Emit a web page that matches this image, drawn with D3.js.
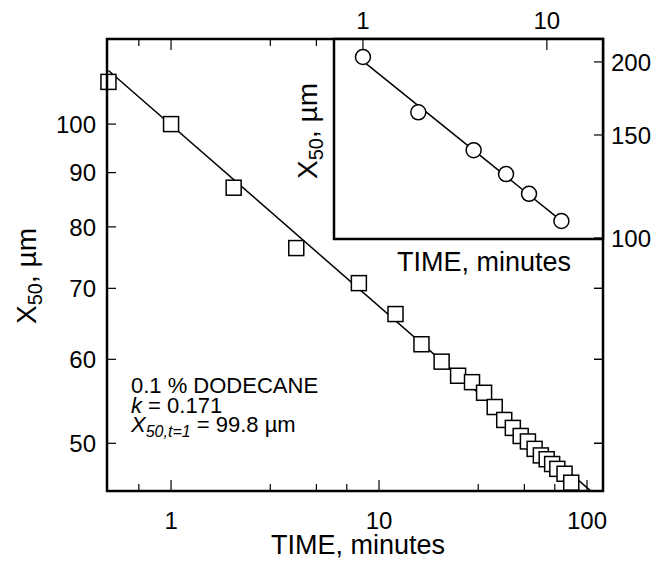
<!DOCTYPE html>
<html>
<head>
<meta charset="utf-8">
<script src="https://cdn.jsdelivr.net/npm/d3@7"></script>
<style>
    body { margin: 0; background: #fff; }
    svg { display: block; font-family: "Liberation Sans", Arial, sans-serif; }
</style>
</head>
<body>
<svg id="chart" width="651" height="571"></svg>
<script>
// main series (0.1 % dodecane), squares
const mainTimes = [0.5, 1, 2, 4, 8, 12, 16, 20, 24, 28, 32, 36, 40, 44, 48, 52, 56, 60, 64, 68, 72, 78, 84];
const mainX50 = [109.6, 100.0, 87.1, 76.4, 70.8, 66.2, 62.0, 59.7, 57.9, 57.1, 55.8, 54.1, 52.6, 51.7, 50.8, 50.2, 49.4, 48.7, 48.3, 47.8, 47.3, 46.8, 45.9];
const mainFitK = 0.171;
const mainFitX1 = 99.8;
const mainFitTimes = [0.5, 110];

// inset series, circles
const insetTimes = [1, 2, 4, 6, 8, 12];
const insetX50 = [203.9, 164.0, 141.3, 128.6, 119.0, 106.9];
const insetFitK = 0.253;
const insetFitX1 = 200.6;
const insetFitTimes = [1, 12];

// ticks
const mainXMajor = [1, 10, 100];
const mainXMinor = [0.7, 3, 5, 7, 30, 50, 70];
const mainYTicks = [50, 60, 70, 80, 90, 100];
const insetXTicks = [1, 10];
const insetYTicks = [100, 150, 200];

const svg = d3.select("#chart");

const plot = { left: 107, right: 603, top: 39, bottom: 491 };
const inset = { left: 334, right: 603, top: 39, bottom: 239 };

const x = d3.scaleLog().domain([0.492, 119.4]).range([plot.left, plot.right]);
const y = d3.scaleLog().domain([45.08, 120.3]).range([plot.bottom, plot.top]);

const ix = d3.scaleLog().domain([0.696, 20.2]).range([inset.left, inset.right]);
const iy = d3.scaleLog().domain([99.6, 218.9]).range([inset.bottom, inset.top]);

const mainData = mainTimes.map((t, i) => ({ t: t, v: mainX50[i] }));
const insetData = insetTimes.map((t, i) => ({ t: t, v: insetX50[i] }));

svg.append("defs").append("clipPath")
    .attr("id", "clip-main")
    .append("rect")
    .attr("x", plot.left)
    .attr("y", plot.top)
    .attr("width", plot.right - plot.left)
    .attr("height", plot.bottom - plot.top);

// ================ main plot ================

// fit line
svg.append("path")
    .datum(mainFitTimes)
    .attr("clip-path", "url(#clip-main)")
    .attr("fill", "none")
    .attr("stroke", "#000")
    .attr("stroke-width", 1.5)
    .attr("d", d3.line()
        .x(t => x(t))
        .y(t => y(mainFitX1 * Math.pow(t, -mainFitK))));

// squares, drawn in order so later ones overlap
const sq = 15;
svg.append("g")
    .selectAll("rect")
    .data(mainData)
    .enter().append("rect")
    .attr("x", d => x(d.t) - sq / 2)
    .attr("y", d => y(d.v) - sq / 2)
    .attr("width", sq)
    .attr("height", sq)
    .attr("fill", "#fff")
    .attr("stroke", "#000")
    .attr("stroke-width", 1.5);

// ticks
const tickG = svg.append("g").attr("stroke", "#000").attr("stroke-width", 1.2);

function xTicks(vals, len) {
    tickG.selectAll(null).data(vals).enter().append("line")
        .attr("x1", d => x(d)).attr("x2", d => x(d))
        .attr("y1", plot.bottom).attr("y2", plot.bottom - len);
    tickG.selectAll(null).data(vals).enter().append("line")
        .attr("x1", d => x(d)).attr("x2", d => x(d))
        .attr("y1", plot.top).attr("y2", plot.top + len);
}
xTicks(mainXMajor, 11);
xTicks(mainXMinor, 7);

tickG.selectAll(null).data(mainYTicks).enter().append("line")
    .attr("x1", plot.left).attr("x2", plot.left + 9)
    .attr("y1", d => y(d)).attr("y2", d => y(d));
tickG.selectAll(null).data(mainYTicks).enter().append("line")
    .attr("x1", plot.right).attr("x2", plot.right - 9)
    .attr("y1", d => y(d)).attr("y2", d => y(d));

// frame
svg.append("rect")
    .attr("x", plot.left)
    .attr("y", plot.top)
    .attr("width", plot.right - plot.left)
    .attr("height", plot.bottom - plot.top)
    .attr("fill", "none")
    .attr("stroke", "#000")
    .attr("stroke-width", 2.5);

// tick labels
svg.append("g")
    .selectAll("text")
    .data(mainXMajor)
    .enter().append("text")
    .attr("x", d => x(d))
    .attr("y", 529)
    .attr("text-anchor", "middle")
    .attr("font-size", 24)
    .text(d => d);

svg.append("g")
    .selectAll("text")
    .data(mainYTicks)
    .enter().append("text")
    .attr("x", 96)
    .attr("y", d => y(d))
    .attr("dy", "0.36em")
    .attr("text-anchor", "end")
    .attr("font-size", 24)
    .text(d => d);

// axis titles
svg.append("text")
    .attr("x", 358)
    .attr("y", 554)
    .attr("text-anchor", "middle")
    .attr("font-size", 27)
    .text("TIME, minutes");

function yTitle(cx, cy) {
    const t = svg.append("text")
        .attr("transform", `translate(${cx},${cy}) rotate(-90)`)
        .attr("text-anchor", "middle")
        .attr("dy", "0.36em")
        .attr("font-size", 28);
    t.append("tspan").text("X");
    t.append("tspan").attr("font-size", 20).attr("dy", 6).text("50");
    t.append("tspan").attr("dy", -6).text(", µm");
}
yTitle(26, 276);

// annotation
const note = svg.append("g").attr("font-size", 22);
note.append("text").attr("x", 131).attr("y", 393).text("0.1 % DODECANE");
const kLine = note.append("text").attr("x", 131).attr("y", 413);
kLine.append("tspan").attr("font-style", "italic").text("k");
kLine.append("tspan").text(" = 0.171");
const xLine = note.append("text").attr("x", 131).attr("y", 432);
xLine.append("tspan").attr("font-style", "italic").text("X");
xLine.append("tspan").attr("font-style", "italic").attr("font-size", 16).attr("dy", 5).text("50,t=1");
xLine.append("tspan").attr("dy", -5).text(" = 99.8 µm");

// ================ inset ================

svg.append("rect")
    .attr("x", inset.left)
    .attr("y", inset.top)
    .attr("width", inset.right - inset.left)
    .attr("height", inset.bottom - inset.top)
    .attr("fill", "#fff")
    .attr("stroke", "none");

const insetTicks = svg.append("g").attr("stroke", "#000").attr("stroke-width", 1.2);
insetTicks.selectAll(null).data(insetXTicks).enter().append("line")
    .attr("x1", d => ix(d)).attr("x2", d => ix(d))
    .attr("y1", inset.top).attr("y2", inset.top + 11);
insetTicks.selectAll(null).data(insetYTicks).enter().append("line")
    .attr("x1", inset.right).attr("x2", inset.right - 9)
    .attr("y1", d => iy(d)).attr("y2", d => iy(d));
// main right-axis ticks below the inset
insetTicks.selectAll(null).data(mainYTicks.filter(d => y(d) > inset.bottom)).enter().append("line")
    .attr("x1", plot.right).attr("x2", plot.right - 9)
    .attr("y1", d => y(d)).attr("y2", d => y(d));

svg.append("path")
    .datum(insetFitTimes)
    .attr("fill", "none")
    .attr("stroke", "#000")
    .attr("stroke-width", 1.5)
    .attr("d", d3.line()
        .x(t => ix(t))
        .y(t => iy(insetFitX1 * Math.pow(t, -insetFitK))));

svg.append("g")
    .selectAll("circle")
    .data(insetData)
    .enter().append("circle")
    .attr("cx", d => ix(d.t))
    .attr("cy", d => iy(d.v))
    .attr("r", 7.5)
    .attr("fill", "#fff")
    .attr("stroke", "#000")
    .attr("stroke-width", 1.5);

svg.append("rect")
    .attr("x", inset.left)
    .attr("y", inset.top)
    .attr("width", inset.right - inset.left)
    .attr("height", inset.bottom - inset.top)
    .attr("fill", "none")
    .attr("stroke", "#000")
    .attr("stroke-width", 2.5);

svg.append("g")
    .selectAll("text")
    .data(insetXTicks)
    .enter().append("text")
    .attr("x", d => ix(d))
    .attr("y", 29)
    .attr("text-anchor", "middle")
    .attr("font-size", 24)
    .text(d => d);

svg.append("g")
    .selectAll("text")
    .data(insetYTicks)
    .enter().append("text")
    .attr("x", 611)
    .attr("y", d => iy(d))
    .attr("dy", "0.36em")
    .attr("font-size", 24)
    .text(d => d);

svg.append("text")
    .attr("x", 484)
    .attr("y", 271)
    .attr("text-anchor", "middle")
    .attr("font-size", 27)
    .text("TIME, minutes");

yTitle(307, 131);
</script>
</body>
</html>
